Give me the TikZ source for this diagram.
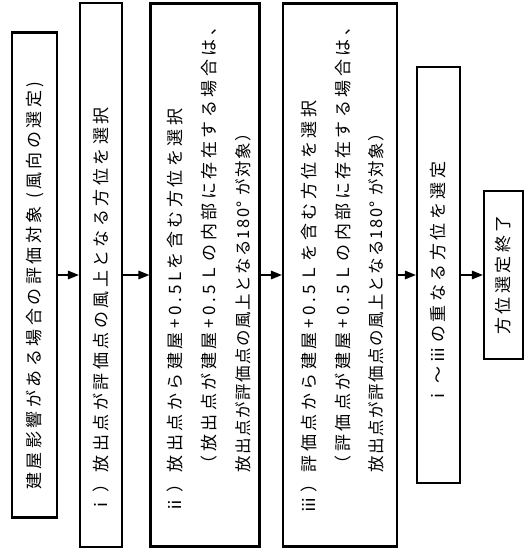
\documentclass[tikz,border=0pt]{standalone}
\usepackage{fontspec}
\setmainfont{Noto Sans CJK JP}[LetterSpace=20.6]
\usetikzlibrary{arrows.meta}
\begin{document}
\begin{tikzpicture}[x=1pt,y=-1pt,
  box/.style={draw, line width=2.2pt, inner sep=0pt},
  txt/.style={rotate=90, inner sep=0pt, font=\fontsize{17}{17}\selectfont},
  tight/.style={font=\fontsize{16.5}{16.5}\selectfont\addfontfeatures{LetterSpace=9}},
  arr/.style={line width=1.6pt, -{Triangle[length=11pt,width=8.5pt]}}]
\useasboundingbox (0,0) rectangle (524,549);
% boxes
\node[box, minimum width=45pt,  minimum height=485pt] (b1) at (34.5,275) {};
\node[box, minimum width=42pt,  minimum height=544pt] (b2) at (101,275) {};
\node[box, minimum width=109pt, minimum height=543pt] (b3) at (205,275) {};
\node[box, minimum width=114pt, minimum height=543pt] (b4) at (340,275) {};
\node[box, minimum width=43pt,  minimum height=416pt] (b5) at (438.5,275) {};
\node[box, minimum width=39pt,  minimum height=168pt] (b6) at (503.5,275) {};
% texts
\node[txt, anchor=west] (t1) at (34.5,490) {建屋影響がある場合の評価対象 (風向の選定)};
\node[txt, anchor=west] (t2) at (101,513.5) {ⅰ）放出点が評価点の風上となる方位を選択};
\node[txt, anchor=west] (t3a) at (175,513.5) {ⅱ）放出点から建屋+0.5Lを含む方位を選択};
\node[txt, anchor=west] (t3b) at (209,472.5) {（放出点が建屋+0.5Ｌの内部に存在する場合は、};
\node[txt, tight, anchor=west] (t3c) at (243,472.5) {放出点が評価点の風上となる180° が対象）};
\node[txt, anchor=west] (t4a) at (309,513.5) {ⅲ）評価点から建屋+0.5Ｌを含む方位を選択};
\node[txt, anchor=west] (t4b) at (343,472.5) {（評価点が建屋+0.5Ｌの内部に存在する場合は、};
\node[txt, tight, anchor=west] (t4c) at (376,472.5) {放出点が評価点の風上となる180° が対象）};
\node[txt] (t5) at (438.5,283) {ⅰ～ⅲの重なる方位を選定};
\node[txt] (t6) at (503.5,275) {方位選定終了};
% arrows
\draw[arr] (b1.east) -- (b2.west);
\draw[arr] (b2.east) -- (b3.west);
\draw[arr] (b3.east) -- (b4.west);
\draw[arr] (b4.east) -- (b5.west);
\draw[arr] (b5.east) -- (b6.west);
\end{tikzpicture}
\end{document}
